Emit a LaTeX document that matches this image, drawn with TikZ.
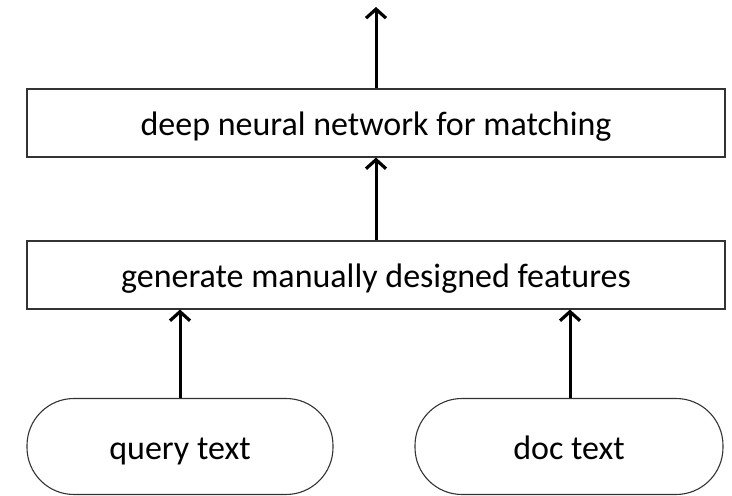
\documentclass[tikz,border=0pt]{standalone}
\usepackage{fontspec}
\setmainfont{Carlito}
\usetikzlibrary{arrows.meta}
\begin{document}
\begin{tikzpicture}[x=1pt,y=1pt,
  box/.style={draw=black!80,line width=1.1pt,fill=white,inner sep=0pt,text height=27pt,text depth=1pt,font=\fontsize{34}{38}\selectfont},
  pill/.style={box,rounded corners=47pt},
  arr/.style={line width=3pt,-{Straight Barb[length=9pt,width=20pt,line width=3.2pt]}}]
\useasboundingbox (0,0) rectangle (732,496);
\node[box,minimum width=698pt,minimum height=68pt] (dnn) at (376,373) {deep neural network for matching};
\node[box,minimum width=698pt,minimum height=68pt] (feat) at (376,221) {generate manually designed features};
\node[pill,minimum width=306pt,minimum height=96pt] (q) at (180,49.5) {query text};
\node[pill,minimum width=308pt,minimum height=96pt] (d) at (569,49.5) {doc text};
\coordinate (out) at (376,489);
\draw[arr] (q.north -| 180,0) -- (feat.south -| 180,0);
\draw[arr] (d.north -| 570,0) -- (feat.south -| 570,0);
\draw[arr] (feat.north) -- (dnn.south);
\draw[arr] (dnn.north) -- (out);
\end{tikzpicture}
\end{document}
